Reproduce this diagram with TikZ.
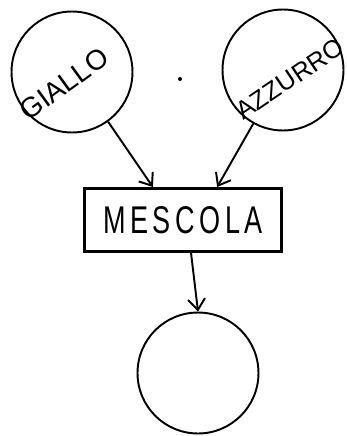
\documentclass[tikz,border=0pt]{standalone}
\usepackage{fontspec}
\newfontfamily\handfont{Liberation Sans}
\usetikzlibrary{arrows.meta,calc}

\begin{document}
\begin{tikzpicture}[
    x=0.02cm, y=-0.02cm,
    blob/.style={draw, circle, line width=1.1pt, minimum size=2.42cm, inner sep=0pt},
    box/.style={draw, line width=1.7pt, minimum width=3.96cm, minimum height=1.26cm, font=\handfont\fontsize{22}{24}\selectfont},
    word/.style={font=\handfont\fontsize{16}{18}\selectfont, inner sep=0pt},
    flow/.style={line width=1.1pt, -{Straight Barb[length=2.2mm, width=3.4mm, line width=1.1pt]}},
]
\useasboundingbox (0,0) rectangle (347,436);

% Colours in
\node[blob] (giallo) at (72,72) {};
\node[word, rotate=36] (gialloname) at (64,84) {GIALLO};
\node[blob] (azzurro) at (283,70) {};
\node[word, rotate=34, font=\handfont\fontsize{14.5}{16}\selectfont] (azzurroname) at (290,79) {AZZURRO};
\fill (180,79) circle (2);

% Mixing step
\node[box] (mescola) at (183,220) {\scalebox{0.7}[1]{M\,E\,S\,C\,O\,L\,A}};

% Result
\node[blob] (uscita) at (198,373) {};

% Arrows
\draw[flow] (giallo.-54) -- ($(mescola.north west)!0.35!(mescola.north east)$);
\draw[flow] (azzurro.-119) -- ($(mescola.north west)!0.67!(mescola.north east)$);
\draw[flow] ($(mescola.south west)!0.54!(mescola.south east)$) -- (uscita.north);

\end{tikzpicture}
\end{document}
